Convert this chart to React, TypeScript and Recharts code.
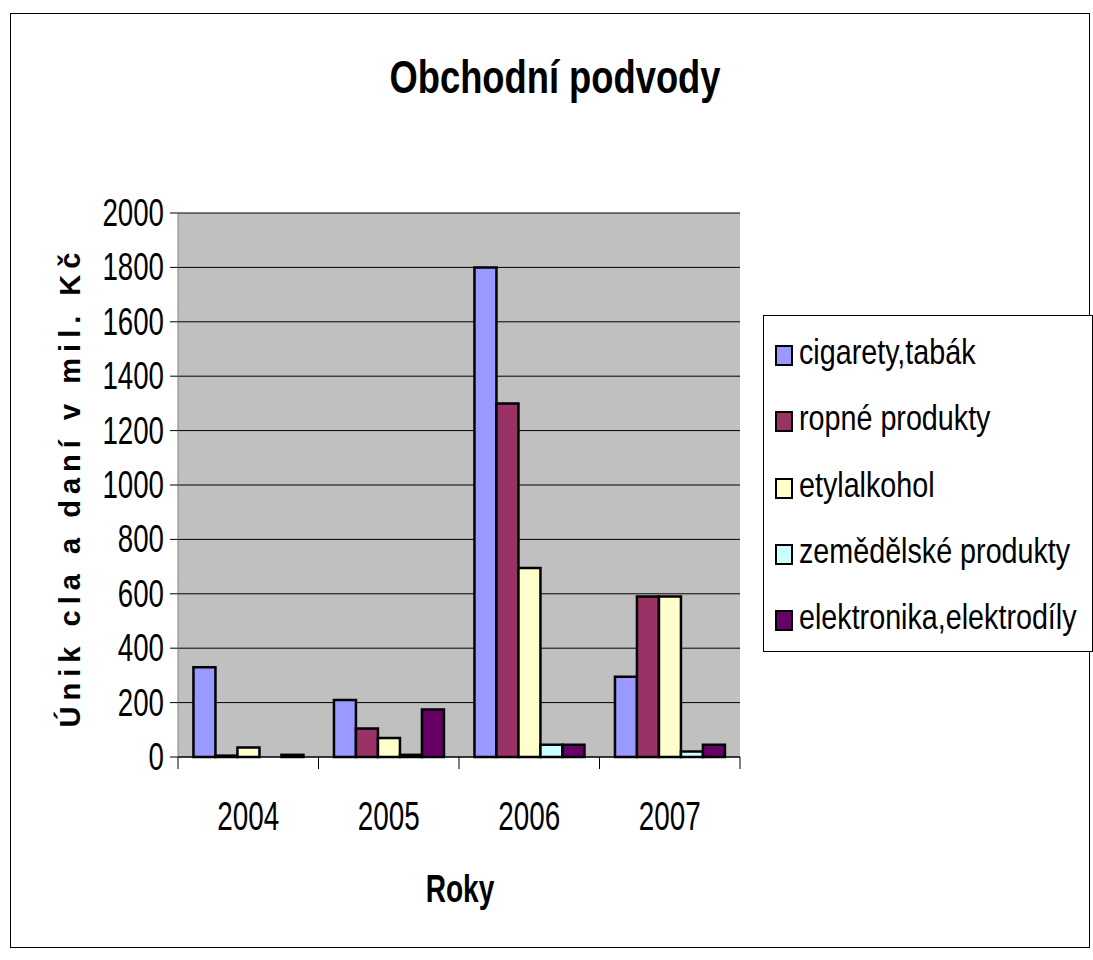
import { BarChart, Bar, XAxis, YAxis, CartesianGrid } from "recharts";

const FONT = "'Liberation Sans', Arial, sans-serif";

const years = ["2004", "2005", "2006", "2007"];

const cigarety = [330, 210, 1800, 295];
const ropne = [5, 105, 1300, 590];
const etylalkohol = [35, 70, 695, 590];
const zemedelske = [0, 8, 45, 20];
const elektronika = [8, 175, 45, 45];

const SERIES = [
  { key: "cig", name: "cigarety,tabák", color: "#9999FF", values: cigarety },
  { key: "rop", name: "ropné produkty", color: "#993366", values: ropne },
  { key: "ety", name: "etylalkohol", color: "#FFFFCC", values: etylalkohol },
  { key: "zem", name: "zemědělské produkty", color: "#CCFFFF", values: zemedelske },
  { key: "ele", name: "elektronika,elektrodíly", color: "#660066", values: elektronika },
];

const yTicks = [0, 200, 400, 600, 800, 1000, 1200, 1400, 1600, 1800, 2000];

const data = years.map((year, i) => {
  const row: Record<string, string | number> = { year };
  SERIES.forEach((s) => {
    row[s.key] = s.values[i];
  });
  return row;
});

// narrow-looking text: scale glyphs horizontally
function YTick({ x, y, payload }: any) {
  return (
    <text
      transform={`translate(${x - 4},${y + 13}) scale(0.71,1)`}
      textAnchor="end"
      fontFamily={FONT}
      fontSize={39}
      fill="#000"
    >
      {payload.value}
    </text>
  );
}

// category label + tick marks on the category boundaries
function XTick({ x, y, payload, index, visibleTicksCount }: any) {
  const half = payload.offset || 0;
  const top = y - 8;
  return (
    <g>
      <line x1={x - half} x2={x - half} y1={top} y2={top + 12} stroke="#000" />
      {index === visibleTicksCount - 1 && (
        <line x1={x + half} x2={x + half} y1={top} y2={top + 12} stroke="#000" />
      )}
      <text
        transform={`translate(${x},${y + 65}) scale(0.68,1)`}
        textAnchor="middle"
        fontFamily={FONT}
        fontSize={41}
        fill="#000"
      >
        {payload.value}
      </text>
    </g>
  );
}

function YLabel() {
  return (
    <text
      transform="translate(80,490) rotate(-90)"
      textAnchor="middle"
      fontFamily={FONT}
      fontSize={29}
      fontWeight="bold"
      fill="#000"
      textLength={475}
      lengthAdjust="spacing"
    >
      Únik cla a daní v mil. Kč
    </text>
  );
}

function XLabel() {
  return (
    <text
      transform="translate(460,902) scale(0.74,1)"
      textAnchor="middle"
      fontFamily={FONT}
      fontSize={38}
      fontWeight="bold"
      fill="#000"
    >
      Roky
    </text>
  );
}

function LegendBox() {
  return (
    <div
      style={{
        position: "absolute",
        left: 763,
        top: 315,
        width: 330,
        height: 337,
        border: "1px solid #000",
        background: "#fff",
        boxSizing: "border-box",
        paddingTop: 7,
        fontFamily: FONT,
        fontSize: 35,
        color: "#000",
      }}
    >
      {SERIES.map((s) => (
        <div key={s.key} style={{ position: "relative", height: 66.3 }}>
          <span
            style={{
              position: "absolute",
              left: 11,
              top: 22,
              width: 14,
              height: 17,
              background: s.color,
              border: "2px solid #000",
            }}
          />
          <span
            style={{
              position: "absolute",
              left: 35,
              top: 9,
              whiteSpace: "nowrap",
              transform: "scaleX(0.82)",
              transformOrigin: "left center",
            }}
          >
            {s.name}
          </span>
        </div>
      ))}
    </div>
  );
}

export default function App() {
  return (
    <div style={{ position: "absolute", left: 0, top: 0, width: 1093, height: 960, background: "#fff" }}>
      <div
        style={{
          position: "absolute",
          left: 10,
          top: 13,
          width: 1080,
          height: 935,
          border: "1px solid #000",
          boxSizing: "border-box",
        }}
      />
      <div
        style={{
          position: "absolute",
          left: 0,
          top: 50,
          width: 1110,
          textAlign: "center",
          fontFamily: FONT,
          fontWeight: "bold",
          fontSize: 46,
          color: "#000",
          transform: "scaleX(0.79)",
        }}
      >
        Obchodní podvody
      </div>
      <div style={{ position: "absolute", left: 0, top: 0 }}>
        <BarChart
          width={1093}
          height={960}
          data={data}
          margin={{ top: 213, right: 353, bottom: 143, left: 78 }}
          barGap={0}
          barCategoryGap="11%"
        >
          <CartesianGrid vertical={false} fill="#C0C0C0" stroke="#000" strokeWidth={1} />
          <XAxis
            dataKey="year"
            height={60}
            interval={0}
            axisLine={{ stroke: "#000", strokeWidth: 1 }}
            tickLine={false}
            tick={<XTick />}
            label={<XLabel />}
          />
          <XAxis xAxisId="top" orientation="top" dataKey="year" axisLine={{ stroke: "#808080" }} tick={false} tickLine={false} height={0} />
          <YAxis
            width={100}
            domain={[0, 2000]}
            ticks={yTicks}
            interval={0}
            axisLine={{ stroke: "#808080" }}
            tickLine={{ stroke: "#000" }}
            tickSize={8}
            tick={<YTick />}
            label={<YLabel />}
          />
          <YAxis yAxisId="right" orientation="right" width={0} axisLine={{ stroke: "#808080" }} tick={false} tickLine={false} />
          {SERIES.map((s) => (
            <Bar
              key={s.key}
              dataKey={s.key}
              name={s.name}
              fill={s.color}
              stroke="#000"
              strokeWidth={2.5}
              isAnimationActive={false}
            />
          ))}
        </BarChart>
      </div>
      <LegendBox />
    </div>
  );
}
